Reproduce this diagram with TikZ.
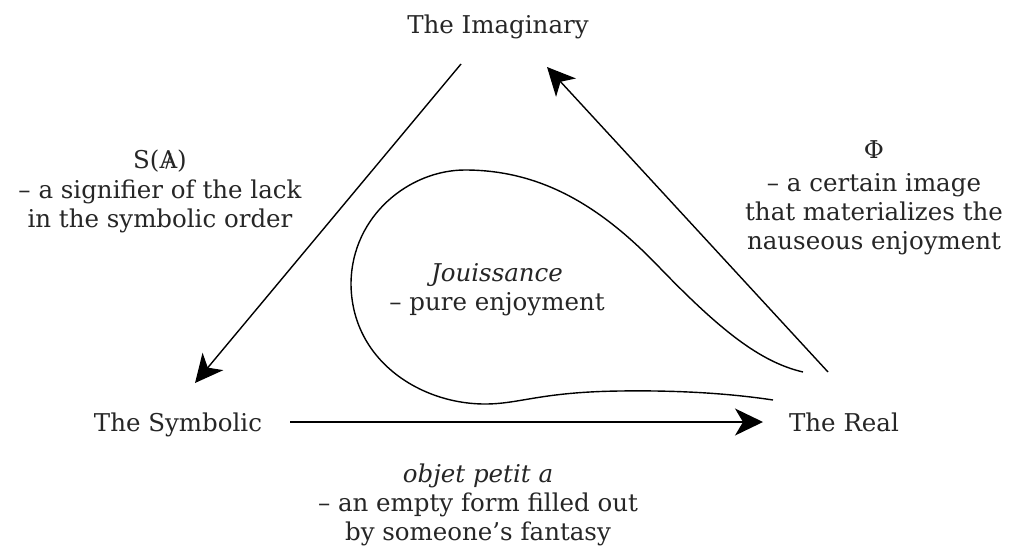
\documentclass[tikz,border=0pt]{standalone}
\usepackage{fontspec}
\setmainfont{DejaVu Serif}
\usetikzlibrary{arrows.meta}
\newcommand{\slashA}{\ooalign{A\cr\hfil\raisebox{1pt}{\scalebox{0.75}{/}}\hfil}}
\begin{document}
\begin{tikzpicture}[x=1pt,y=-1pt,
  lbl/.style={font=\fontsize{24.5}{29}\selectfont, inner sep=0pt, align=center, text=black!85},
  arr/.style={line width=1.4pt, -{Stealth[length=28pt,width=27pt,inset=8pt]}},
  curve/.style={line width=1.4pt}]
\useasboundingbox[fill=white] (0,0) rectangle (1014,552);
% vertex labels
\node[lbl, anchor=base] (imag) at (498,33) {The Imaginary};
\node[lbl, anchor=base] (symb) at (178,431) {The Symbolic};
\node[lbl, anchor=base] (real) at (844,431) {The Real};
% side labels
\node[lbl] (lbla) at (160,191) {S(\slashA)\\[1pt] – a signifier of the lack\\ in the symbolic order};
\node[lbl] (lblphi) at (874,198) {Φ\\[4pt] – a certain image\\ that materializes the\\ nauseous enjoyment};
\node[lbl] (lbljou) at (497,290) {\textit{Jouissance}\\ – pure enjoyment};
\node[lbl] (lblobj) at (478,505) {\textit{objet petit a}\\ – an empty form filled out\\ by someone’s fantasy};
% connector end points
\coordinate (iS) at (461,64);
\coordinate (sE) at (195,383);
\coordinate (rS) at (828,372);
\coordinate (iE) at (547,67);
\coordinate (sS) at (290,422);
\coordinate (rE) at (763,422);
\draw[arr] (iS) -- (sE);
\draw[arr] (rS) -- (iE);
\draw[arr] (sS) -- (rE);
% teardrop
\draw[curve] (803,372) .. controls (760,362) and (720,330) .. (660,268)
  .. controls (600,205) and (540,170) .. (465,170)
  .. controls (410,170) and (352,215) .. (351,283)
  .. controls (351,360) and (420,404) .. (485,404)
  .. controls (520,404) and (540,392) .. (620,391)
  .. controls (690,390) and (740,395) .. (773,400);
\end{tikzpicture}
\end{document}
